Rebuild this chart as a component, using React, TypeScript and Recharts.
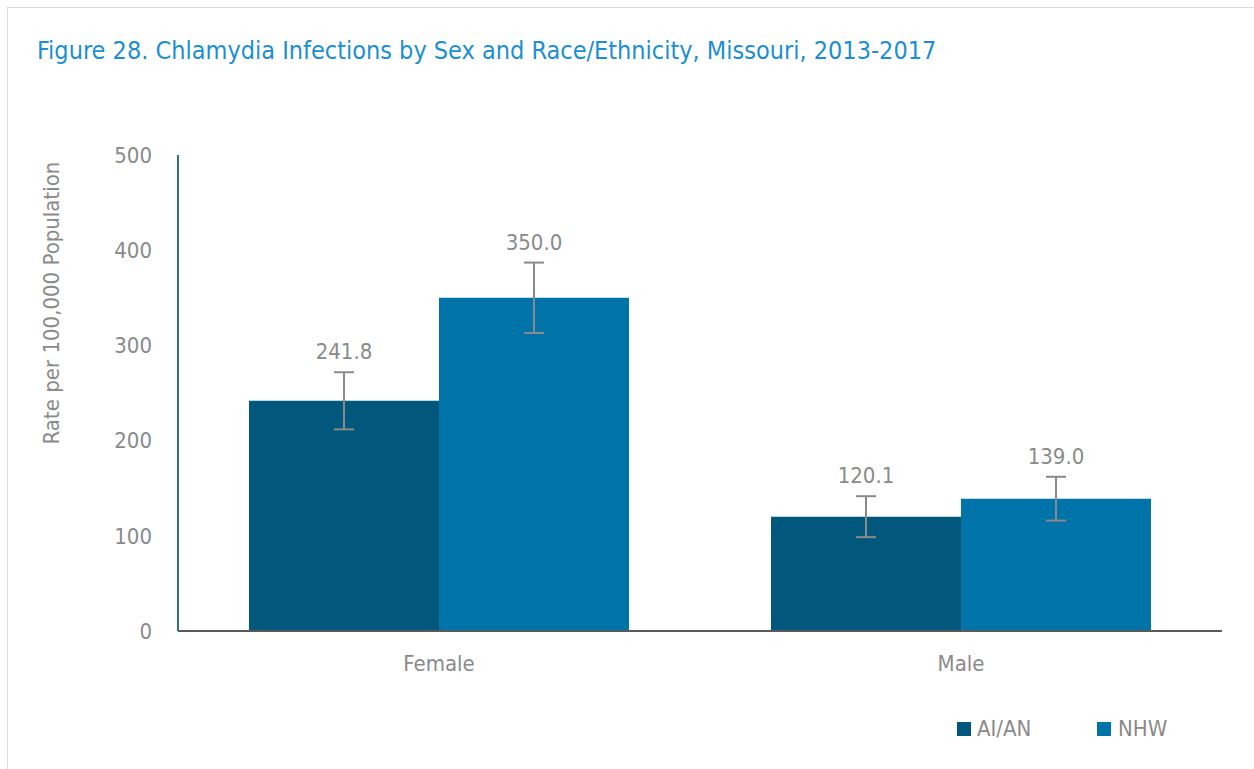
import React from "react";
import { BarChart, Bar, XAxis, YAxis, ErrorBar, LabelList } from "recharts";

const sexes = ["Female", "Male"];
const aianRates = [241.8, 120.1];
const nhwRates = [350.0, 139.0];
const aianErrors = [30, 21.5];
const nhwErrors = [37, 23];
const yTicks = [0, 100, 200, 300, 400, 500];

const FONT = '"Liberation Sans Narrow", "DejaVu Sans Condensed", "Roboto Condensed", Roboto, sans-serif';
const GRAY = "#8a8a8a";
const AIAN = "#02577c";
const NHW = "#0073a8";

const chartData = sexes.map((sex, i) => ({
  sex,
  aian: aianRates[i],
  nhw: nhwRates[i],
  aianErr: aianErrors[i],
  nhwErr: nhwErrors[i],
}));

// value label sits above the error bar whisker
const makeLabel = (errors: number[]) => (props: any) => {
  const { x, y, width, height, value, index } = props;
  const pxPerUnit = height / value;
  const top = y - errors[index] * pxPerUnit;
  return (
    <text x={x + width / 2} y={top - 13} textAnchor="middle" fill={GRAY} fontSize={22} fontFamily={FONT}>
      {Number(value).toFixed(1)}
    </text>
  );
};

export default function App() {
  return (
    <div style={{ position: "absolute", left: 0, top: 0, width: 1254, height: 769, overflow: "hidden", background: "#fff" }}>
      <div style={{ position: "absolute", left: 7, top: 7, width: 1300, height: 800, border: "1px solid #dcdcdc" }} />
      <div style={{ position: "absolute", left: 37, top: 38, fontFamily: FONT, fontSize: 25, lineHeight: 1, color: "#1b8fd2", whiteSpace: "nowrap" }}>
        Figure 28. Chlamydia Infections by Sex and Race/Ethnicity, Missouri, 2013-2017
      </div>
      <div style={{ position: "absolute", left: 0, top: 0 }}>
        <BarChart
          width={1254}
          height={769}
          data={chartData}
          margin={{ top: 155, right: 32, bottom: 108, left: 20 }}
          barCategoryGap="13.6%"
          barGap={0}
        >
          <XAxis
            dataKey="sex"
            height={30}
            axisLine={{ stroke: "#5a5a5a", strokeWidth: 2 }}
            tickLine={false}
            tickSize={0}
            tickMargin={24}
            tick={{ fill: GRAY, fontSize: 22, fontFamily: FONT }}
          />
          <YAxis
            width={158}
            domain={[0, 500]}
            ticks={yTicks}
            interval={0}
            axisLine={{ stroke: "#2a7b6c", strokeWidth: 2 }}
            tickLine={false}
            tickSize={0}
            tickMargin={26}
            tick={{ fill: GRAY, fontSize: 22, fontFamily: FONT }}
            label={{
              content: (p: any) => {
                const vb = p.viewBox;
                const cx = vb.x + 31;
                const cy = vb.y + 148;
                return (
                  <text x={cx} y={cy} transform={`rotate(-90 ${cx} ${cy})`} textAnchor="middle" dominantBaseline="central" fill={GRAY} fontSize={22} fontFamily={FONT}>
                    Rate per 100,000 Population
                  </text>
                );
              },
            }}
          />
          <Bar dataKey="aian" fill={AIAN} isAnimationActive={false}>
            <ErrorBar dataKey="aianErr" direction="y" width={10} stroke={GRAY} strokeWidth={2} />
            <LabelList dataKey="aian" content={makeLabel(aianErrors)} />
          </Bar>
          <Bar dataKey="nhw" fill={NHW} isAnimationActive={false}>
            <ErrorBar dataKey="nhwErr" direction="y" width={10} stroke={GRAY} strokeWidth={2} />
            <LabelList dataKey="nhw" content={makeLabel(nhwErrors)} />
          </Bar>
        </BarChart>
      </div>
      <div style={{ position: "absolute", left: 957, top: 716, display: "flex", alignItems: "center", fontFamily: FONT, fontSize: 22, color: GRAY }}>
        <span style={{ width: 14, height: 14, background: AIAN, display: "inline-block", marginRight: 6 }} />
        <span style={{ width: 120 }}>AI/AN</span>
        <span style={{ width: 14, height: 14, background: NHW, display: "inline-block", marginRight: 7 }} />
        <span>NHW</span>
      </div>
    </div>
  );
}
